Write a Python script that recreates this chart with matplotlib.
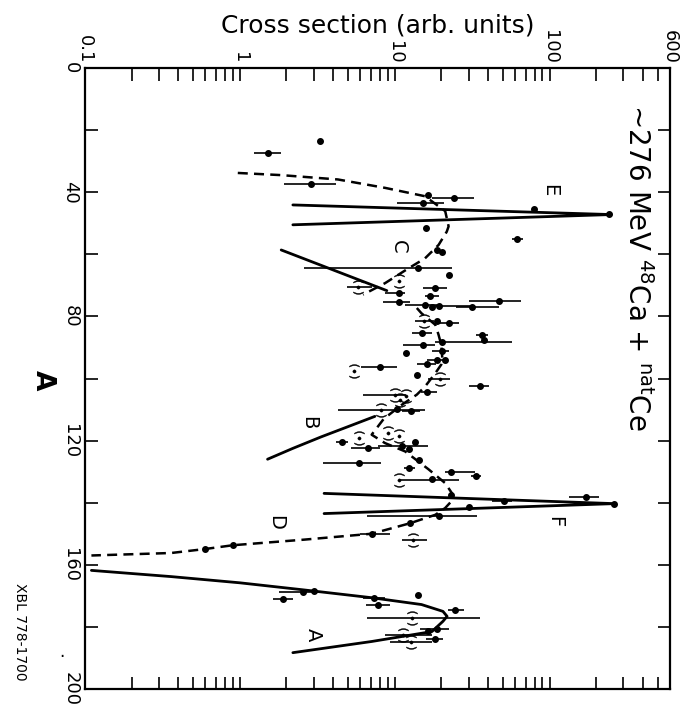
import numpy as np
import matplotlib
matplotlib.use('Agg')
import matplotlib.pyplot as plt
from matplotlib.markers import MarkerStyle
from matplotlib.transforms import Affine2D
from matplotlib.ticker import FixedLocator, FixedFormatter, NullFormatter

# ---------------- data ----------------
# plain data points: mass number A, cross section, error-bar low / high (None = no bar)
pts_A  = [23.6, 27.4, 37.3, 41.0, 42.0, 43.5, 45.3, 47.0, 51.4, 55.0, 58.6, 59.3,
          64.5, 66.6, 70.9, 73.3, 72.5, 75.4, 76.3, 77.1, 76.6, 76.9, 75.0, 81.4,
          82.2, 85.4, 88.1, 85.9, 87.5, 89.2, 91.8, 91.3, 94.2, 94.0, 95.4, 96.4,
          99.0, 102.3, 104.5, 109.8, 110.6, 120.6, 120.6, 122.4, 121.7, 122.7, 126.4,
          127.2, 128.8, 132.4, 130.2, 131.5, 137.5, 139.3, 138.2, 140.3, 141.4, 144.4,
          146.6, 150.0, 153.7, 154.9, 171.0, 168.8, 168.3, 170.7, 173.0, 169.6, 174.4,
          180.7, 181.4, 183.8]
pts_cs = [3.27, 1.51, 2.89, 16.5, 24.0, 15.3, 79.5, 244, 16.0, 62.0, 18.8, 20.3,
          14.1, 22.3, 18.3, 16.9, 10.6, 10.7, 15.7, 17.4, 19.2, 31.6, 47.0, 18.9,
          22.3, 15.0, 20.3, 36.6, 37.6, 15.3, 11.8, 20.1, 18.7, 21.2, 16.1, 8.0,
          13.9, 35.8, 16.1, 10.4, 12.7, 4.57, 13.5, 6.7, 11.1, 12.4, 14.4,
          5.87, 12.4, 17.4, 23.2, 33.5, 23.2, 50.5, 171, 262, 30.0, 19.2,
          12.6, 7.1, 0.9, 0.6, 1.89, 2.55, 3.0, 7.3, 7.8, 14.2, 24.7,
          18.9, 16.5, 18.3]
pts_lo = [None, 1.24, 1.94, None, 17.4, 10.3, None, None, None, 57.0, None, None,
          2.6, None, 15.3, 15.7, 8.7, 8.4, 11.7, None, 18.3, 25.0, 30.0, None,
          19.2, 12.9, 18.2, 33.5, None, 11.3, None, 17.4, 16.1, None, 13.9, 6.1,
          None, 30.0, 14.7, None, 11.1, 4.2, None, 5.26, 7.8, None, None,
          3.45, 11.5, None, 21.0, 31.0, None, 42.5, 134, None, None, 6.6,
          None, 5.95, None, None, 1.63, 1.8, None, 6.2, 6.5, None, 22.0,
          14.6, None, 16.0]
pts_hi = [None, 1.85, 4.2, None, 32.5, 20.7, None, None, None, 67.0, None, None,
          23.4, None, 21.8, 19.2, 11.7, 12.6, 19.2, None, 31.6, 47.0, 65.0, None,
          26.0, 17.4, 57.0, 40.0, None, 18.3, None, 22.3, 21.8, None, 18.5, 10.3,
          None, 40.5, 18.8, None, 14.6, 5.0, None, 8.0, 16.5, None, None,
          8.2, 13.5, None, 33.0, 36.0, None, 57.0, 209, None, None, 34.0,
          None, 9.3, None, None, 2.2, 3.2, None, 8.6, 9.3, None, 28.0,
          22.3, None, 20.5]

# bracketed points "(•)"
brk_A  = [68.6, 70.5, 81.6, 97.7, 100.1, 105.2, 105.6, 106.9, 110.3, 117.4, 118.6,
          119.3, 132.6, 151.9, 177.1, 182.7, 184.8]
brk_cs = [10.7, 5.8, 15.5, 5.5, 19.6, 10.1, 11.9, 10.8, 8.16, 9.1, 10.6,
          5.87, 10.6, 13.2, 13.0, 11.4, 12.7]
brk_lo = [None, 4.9, 13.5, None, 16.5, 6.2, None, None, 4.3, None, None,
          None, 10.6, 11.1, 6.6, 8.66, 9.3]
brk_hi = [None, 7.1, 17.9, None, 22.8, 11.9, None, None, 15.6, None, None,
          None, 25.9, 16.1, 35.8, 17.4, 17.4]

# solid component curves
curveA_A  = [161.8, 163.8, 165.8, 168.0, 170.6, 172.8, 175.0, 176.6, 178.2, 181.5, 184.7, 188.3]
curveA_cs = [0.11, 0.36, 1.0, 2.5, 7.1, 14.9, 20.5, 21.8, 20.5, 17.4, 7.1, 2.2]
curveB_A  = [126.0, 122.5, 118.8, 115.5, 112.2]
curveB_cs = [1.51, 2.2, 3.35, 5.0, 7.45]
curveC_A  = [58.6, 71.7]
curveC_cs = [1.85, 8.9]
curveE_A  = [44.1, 47.2, 50.5]
curveE_cs = [2.2, 250, 2.2]
curveF_A  = [137.0, 140.3, 143.5]
curveF_cs = [3.5, 262, 3.5]

# dashed sum curves
dash1_A  = [33.8, 34.5, 35.9, 38.6, 41.3, 46.1, 51.0, 52.7, 57.0, 61.3, 64.5, 69.3, 73.0]
dash1_cs = [0.97, 1.85, 4.3, 8.66, 15.7, 21.2, 22.3, 21.7, 19.2, 15.7, 12.3, 8.66, 6.25]
dash2_A  = [77.3, 79.0, 82.7, 85.9, 89.2, 93.4, 95.5, 98.3, 102.6, 105.2, 108.5, 113.0,
            118.1, 120.8, 123.5, 129.2, 133.7, 136.9, 139.6, 141.7, 143.9, 146.6, 150.0,
            151.9, 153.7, 154.9, 156.2, 157.0]
dash2_cs = [13.9, 14.9, 18.3, 19.2, 20.0, 20.3, 20.0, 18.3, 15.7, 13.9, 11.1, 8.5,
            7.1, 8.66, 11.7, 16.5, 21.2, 23.4, 23.2, 21.2, 18.3, 12.6, 7.1,
            2.6, 0.9, 0.6, 0.36, 0.11]

# labels of components
comp_names = ['E', 'C', 'B', 'D', 'F', 'A']
comp_A     = [39.3, 57.6, 114.3, 146.4, 146.1, 182.5]
comp_cs    = [100, 10.6, 2.77, 1.71, 108, 2.98]

x_major = [0.1, 1, 10, 100, 600]
x_major_labels = ['0.1', '1', '10', '100', '600']
y_major = [0, 40, 80, 120, 160, 200]
y_major_labels = ['0', '40', '80', '120', '160', '200']

# ---------------- figure ----------------
fig = plt.figure(figsize=(6.85, 7.07), dpi=100)
ax = fig.add_axes([85/685, 1 - 689/707, 585/685, 621/707])
ax.set_xscale('log')
ax.set_xlim(0.1, 600)
ax.set_ylim(200, 0)


def split_err(cs, lo, hi):
    cs = np.array(cs, float)
    lo = np.array([c if l is None else l for c, l in zip(cs, lo)], float)
    hi = np.array([c if h is None else h for c, h in zip(cs, hi)], float)
    return np.vstack([cs - lo, hi - cs])

ax.errorbar(pts_cs, pts_A, xerr=split_err(pts_cs, pts_lo, pts_hi), fmt='o',
            color='black', ms=4, elinewidth=1.2, capsize=0, zorder=4)
ax.errorbar(brk_cs, brk_A, xerr=split_err(brk_cs, brk_lo, brk_hi), fmt='none',
            ecolor='black', elinewidth=1.2, capsize=0, zorder=4)
brk_marker = MarkerStyle(r'$(\bullet)$', transform=Affine2D().rotate_deg(-90))
ax.plot(brk_cs, brk_A, linestyle='none', marker=brk_marker, ms=10, color='black',
        markeredgewidth=0.3, zorder=5)

for cA, ccs in [(curveA_A, curveA_cs), (curveB_A, curveB_cs), (curveC_A, curveC_cs),
                (curveE_A, curveE_cs), (curveF_A, curveF_cs)]:
    ax.plot(ccs, cA, color='black', lw=2.0, solid_capstyle='round', zorder=3)
for dA, dcs in [(dash1_A, dash1_cs), (dash2_A, dash2_cs)]:
    ax.plot(dcs, dA, color='black', lw=1.8, linestyle=(0, (4, 2.5)), zorder=3)

for name, a, c in zip(comp_names, comp_A, comp_cs):
    ax.text(c, a, name, rotation=-90, ha='center', va='center', fontsize=14)

# ticks
ax.xaxis.set_major_locator(FixedLocator(x_major))
ax.xaxis.set_major_formatter(FixedFormatter(x_major_labels))
minors = [m * 10.0**e for e in (-1, 0, 1) for m in range(2, 10)] + [200, 300, 400, 500]
ax.xaxis.set_minor_locator(FixedLocator(minors))
ax.xaxis.set_minor_formatter(NullFormatter())
ax.yaxis.set_major_locator(FixedLocator(y_major))
ax.yaxis.set_major_formatter(FixedFormatter(y_major_labels))
ax.yaxis.set_minor_locator(FixedLocator([20, 60, 100, 140, 180]))

ax.tick_params(axis='x', which='both', direction='in', top=True, bottom=True,
               labeltop=True, labelbottom=False, length=9, width=1.2, pad=3)
ax.tick_params(axis='y', which='both', direction='in', left=True, right=True,
               labelleft=True, labelright=False, length=9, width=1.2, pad=4)
ax.tick_params(axis='both', which='major', labelsize=13)
for lab in ax.get_xticklabels():
    lab.set_rotation(-90)
    lab.set_va('bottom')
    lab.set_ha('center')
for lab in ax.get_yticklabels():
    lab.set_rotation(-90)
    lab.set_va('center')
    lab.set_ha('right')
for sp in ax.spines.values():
    sp.set_linewidth(1.6)

fig.text(378/685, 1 - 26/707, 'Cross section (arb. units)', ha='center', va='center', fontsize=18)
fig.text(43/685, 1 - 380/707, 'A', rotation=-90, ha='center', va='center', fontsize=19,
         fontweight='bold')
fig.text(637/685, 1 - 267/707, '~276 MeV $^{48}$Ca + $^{\\rm nat}$Ce', rotation=-90,
         ha='center', va='center', fontsize=20)
fig.text(20/685, 1 - 632/707, 'XBL 778-1700', rotation=-90, ha='center', va='center',
         fontsize=10)
fig.text(62/685, 1 - 652/707, '.', ha='center', va='center', fontsize=12)

fig.savefig('out.png', dpi=100)
